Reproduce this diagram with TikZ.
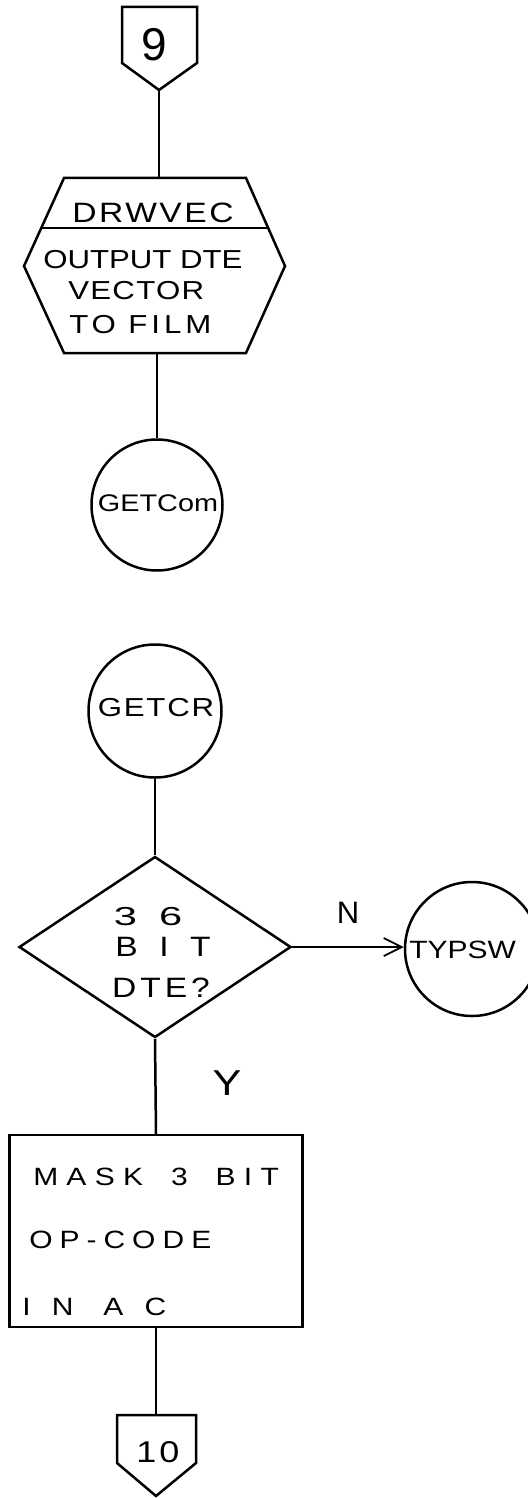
\documentclass[tikz,border=0pt]{standalone}
\usepackage{fontspec}
\setmainfont{Liberation Sans}
\usetikzlibrary{shapes.geometric,arrows.meta}
\newfontfamily\handfont[FakeStretch=1.2]{Liberation Sans}
\newfontfamily\handwide[FakeStretch=1.6]{Liberation Sans}
\newfontfamily\handplain{Liberation Sans}
% [family]{size in pt}{extra letter spacing, percent of size}
\newcommand\hand[3][\handfont]{#1\addfontfeature{LetterSpace=#3}\fontsize{#2pt}{#2pt}\selectfont}
\newcommand\widewords[1]{\spaceskip=#1pt\relax}

\begin{document}
\begin{tikzpicture}[x=1pt,y=-1pt,line width=2.5pt,
  outline/.style={draw,line width=2.5pt,line join=miter},
  ring/.style={circle,draw,line width=2.5pt,inner sep=0pt},
  txt/.style={inner sep=0pt},
  flow/.style={line width=2.5pt},
  barb/.style={-{Straight Barb[length=18pt,width=18pt,line width=1.8pt]}}]
\useasboundingbox (0,0) rectangle (527,1498);

% off-page connector 9
\draw[outline] (122,7) -- (197,7) -- (197,63) -- (159,90) -- (122,63) -- cycle;
\coordinate (c9) at (159,90);
\node[txt,font={\hand[\handplain]{46}{0}}] (t9) at (154,45) {9};

% predefined process DRWVEC
\draw[outline] (64,178) -- (246,178) -- (285,266) -- (246,353) -- (64,353) -- (24,266) -- cycle;
\draw[outline] (41,228) -- (268,228);
\coordinate (hexN) at (159,178);
\coordinate (hexS) at (157,353);
\node[txt,font={\hand{28}{9}}] (tdrw) at (153,213) {DRWVEC};
\node[txt,anchor=west,font={\hand{26}{0}}] (th1) at (42,260) {OUTPUT DTE};
\node[txt,anchor=west,font={\hand{26}{5}}] (th2) at (67,291) {VECTOR};
\node[txt,anchor=west,font={\hand{26}{15}}] (th3) at (68,325) {TO FILM};

% exit connector GETCom
\node[ring,minimum size=131pt] (getcom) at (157,505) {};
\node[txt,font={\hand{24}{0}}] (tgetcom) at (158,503) {GETCom};

% entry connector GETCR
\node[ring,minimum size=133pt] (getcr) at (155,711) {};
\node[txt,font={\hand{26}{7}}] (tgetcr) at (156,708) {GETCR};

% decision
\node[diamond,draw,line width=2.5pt,inner sep=0pt,minimum width=272pt,minimum height=181pt] (dec) at (155,947) {};
\node[txt,font={\hand[\handwide]{26}{85}}] (td1) at (148,917) {36};
\node[txt,font={\hand{28}{77}}] (td2) at (163,947) {BIT};
\node[txt,font={\hand{28}{14}}] (td3) at (161,988) {DTE?};

% connector TYPSW
\node[ring,minimum size=134pt] (typsw) at (472,949) {};
\node[txt,anchor=west,font={\hand{25}{0}}] (ttypsw) at (408,950) {TYPSW};

% process box
\node[draw,line width=2.5pt,inner sep=0pt,minimum width=293pt,minimum height=192pt] (box) at (156,1231) {};
\node[txt,anchor=west,font={\hand{25}{33}\widewords{28}}] (tb1) at (32,1177) {MASK 3 BIT};
\node[txt,anchor=west,font={\hand{25}{28}}] (tb2) at (28,1240) {OP-CODE};
\node[txt,anchor=west,font={\hand{25}{85}\widewords{30}}] (tb3) at (21,1307) {IN AC};

% off-page connector 10
\draw[outline] (117,1415) -- (196,1415) -- (196,1463) -- (156,1496) -- (117,1463) -- cycle;
\coordinate (c10) at (156,1415);
\node[txt,font={\hand{30}{10}}] (t10) at (158,1452) {10};

% flow lines
\draw[flow] (c9) -- (hexN);
\draw[flow] (hexS) -- (getcom.north);
\draw[flow] (getcr.south) -- (dec.north);
\draw[flow,barb] (dec.east) -- (dec.east -| typsw.west);
\draw[flow] (dec.south) -- (box.north);
\draw[flow] (box.south) -- (c10);

% branch labels
\node[txt,font={\hand[\handplain]{31}{0}}] (lN) at (348,913) {N};
\node[txt,font={\hand{36}{0}}] (lY) at (227,1083) {Y};
\end{tikzpicture}
\end{document}
